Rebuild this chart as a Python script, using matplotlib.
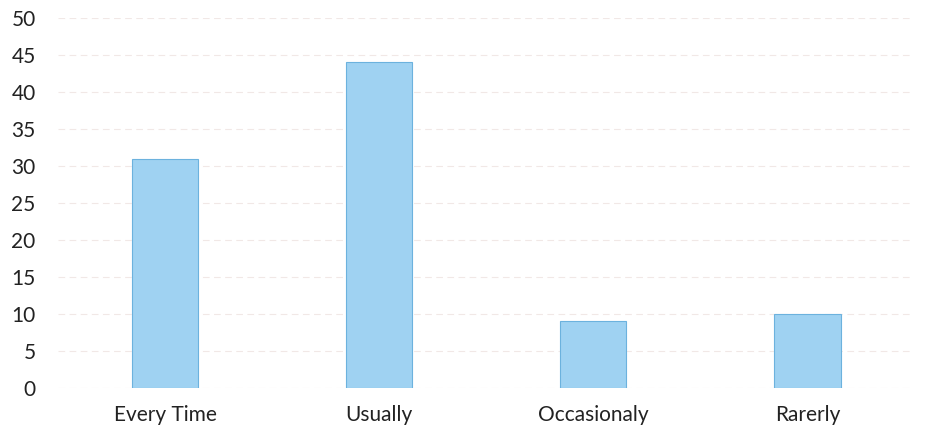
import matplotlib.pyplot as plt

categories = ["Every Time", "Usually", "Occasionaly", "Rarerly"]
values = [31, 44, 9, 10]
y_ticks = list(range(0, 55, 5))

plt.rcParams["font.family"] = ["Lato", "DejaVu Sans"]

figure = plt.figure(figsize=(9.34, 4.46), dpi=100)
axis = figure.add_axes([0.062, 0.130, 0.917, 0.830])

positions = range(len(categories))
axis.bar(positions, values, width=0.31, color="#9fd2f2", edgecolor="#6cb2de", linewidth=0.8, zorder=2)

axis.set_xlim(-0.5, len(categories) - 0.5)
axis.set_ylim(0, 50)
axis.set_yticks(y_ticks)
axis.set_xticks(list(positions))
axis.set_xticklabels(categories)
axis.tick_params(axis="both", length=0, labelsize=15, colors="#222222")
axis.tick_params(axis="x", pad=12)
axis.tick_params(axis="y", pad=16)
axis.grid(True, axis="y", color="#f1e8e6", linewidth=0.8, linestyle=(0, (6, 4)), zorder=0)
for spine in axis.spines.values():
    spine.set_visible(False)

figure.savefig("out.png", dpi=100)
plt.close(figure)
